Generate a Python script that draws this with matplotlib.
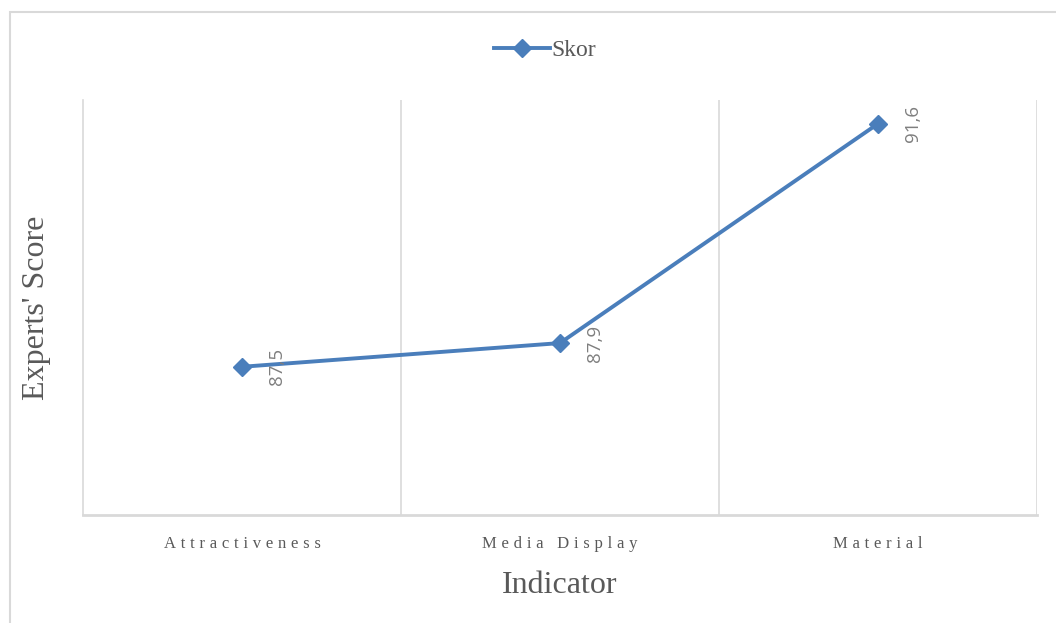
import matplotlib
matplotlib.use("Agg")
import matplotlib.pyplot as plt
from matplotlib.patches import Rectangle

categories = ["Attractiveness", "Media Display", "Material"]
scores = [87.5, 87.9, 91.6]
score_labels = ["87,5", "87,9", "91,6"]
series_name = "Skor"

W, H = 1056, 623
fig = plt.figure(figsize=(W / 100, H / 100), dpi=100)

line_color = "#4A7EBB"
grid_color = "#D9D9D9"
text_gray = "#595959"
serif = ["Liberation Serif", "DejaVu Serif"]

# outer chart frame
fig.patches.append(Rectangle((10 / W, -0.05), 1.2, 1 - 12 / H + 0.05,
                             transform=fig.transFigure, fill=False,
                             edgecolor=grid_color, linewidth=1.5))

ax = fig.add_axes([83 / W, 1 - 515 / H, (1037 - 83) / W, (515 - 100) / H])
x = list(range(len(categories)))
ax.plot(x, scores, color=line_color, linewidth=2.8, marker="D",
        markersize=9, label=series_name, zorder=3)

ax.set_xlim(-0.5, len(categories) - 0.5)
ax.set_ylim(85, 92)
ax.set_yticks([])
ax.set_xticks(x)
spaced = ["\u2009\u200a".join(c for c in lab) for lab in categories]
ax.set_xticklabels(spaced, family=serif, fontsize=12, color=text_gray)
ax.tick_params(axis="x", length=0, pad=15)

for b in [i + 0.5 for i in x]:
    ax.axvline(b, color=grid_color, linewidth=1.2, zorder=1)
for s in ["top", "right"]:
    ax.spines[s].set_visible(False)
ax.spines["left"].set_color(grid_color)
ax.spines["left"].set_linewidth(1.2)
ax.spines["bottom"].set_color(grid_color)
ax.spines["bottom"].set_linewidth(2)

for xi, v, t in zip(x, scores, score_labels):
    ax.annotate(t, (xi, v), xytext=(25, 0), textcoords="offset points",
                rotation=90, ha="center", va="center", fontsize=13.5,
                color="#7F7F7F", family="Open Sans")

ax.set_xlabel("Indicator", family=serif, fontsize=23, color=text_gray, labelpad=14)
fig.text(37 / W, 1 - 308 / H, "Experts' Score", rotation=90, ha="center",
         va="center", family=serif, fontsize=23, color=text_gray)

leg = ax.legend(loc="center", bbox_to_anchor=(0.5 - 15 / 954, 1 + 50 / 415),
                frameon=False, prop={"family": serif, "size": 17},
                handlelength=2.4, handletextpad=0.05, labelcolor=text_gray)

fig.savefig("out.png", dpi=100)
